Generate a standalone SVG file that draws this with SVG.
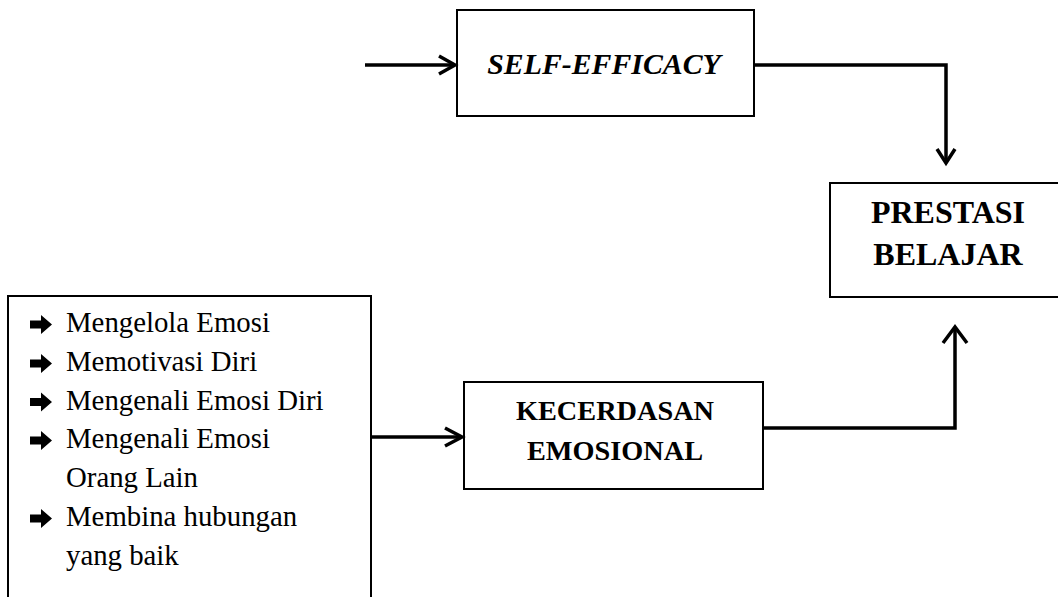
<svg xmlns="http://www.w3.org/2000/svg" xmlns:xlink="http://www.w3.org/1999/xlink" width="1058" height="597" viewBox="0 0 1058 597">
<style>
.box{fill:#fff;stroke:#000;stroke-width:2}
.t{font-family:"Liberation Serif","Times New Roman",serif;fill:#000}
.b{font-weight:bold;font-size:28px;text-anchor:middle}
.li{font-size:28.8px}
.c{fill:none;stroke:#000;stroke-width:3.5}
</style>
<defs>
<path id="bul" d="M0,-4 H11 V-9.5 L22,0 L11,9.5 V4 H0 Z" fill="#000"/>
</defs>
<rect width="1058" height="597" fill="#fff"/>
<g id="self-efficacy">
<rect class="box" x="457" y="10" width="297" height="106"/>
<text class="t b" x="604" y="74" style="font-size:29.8px" font-style="italic">SELF-EFFICACY</text>
</g>
<g id="prestasi">
<rect class="box" x="830" y="183" width="260" height="114"/>
<text class="t b" x="948" y="223" style="font-size:32px">PRESTASI</text>
<text class="t b" x="948" y="265" style="font-size:32px">BELAJAR</text>
</g>
<g id="kecerdasan">
<rect class="box" x="464" y="382" width="299" height="107"/>
<text class="t b" x="615" y="420" style="font-size:28.3px">KECERDASAN</text>
<text class="t b" x="615" y="460" style="font-size:28.3px">EMOSIONAL</text>
</g>
<g id="indikator">
<rect class="box" x="8" y="296" width="363" height="320"/>
<use xlink:href="#bul" x="30" y="324.5"/>
<use xlink:href="#bul" x="30" y="363.5"/>
<use xlink:href="#bul" x="30" y="402"/>
<use xlink:href="#bul" x="30" y="440.5"/>
<use xlink:href="#bul" x="30" y="518.5"/>
<text class="t li" x="66" y="332">Mengelola Emosi</text>
<text class="t li" x="66" y="371">Memotivasi Diri</text>
<text class="t li" x="66" y="410">Mengenali Emosi Diri</text>
<text class="t li" x="66" y="448">Mengenali Emosi</text>
<text class="t li" x="66" y="487">Orang Lain</text>
<text class="t li" x="66" y="526">Membina hubungan</text>
<text class="t li" x="66" y="565">yang baik</text>
</g>
<g id="connectors">
<path class="c" d="M365,65 H455"/>
<path class="c" d="M439,56 L455,65 L439,74"/>
<path class="c" d="M755,65 H946 V163"/>
<path class="c" d="M937,149 L946,163 L955,149"/>
<path class="c" d="M372,437 H462"/>
<path class="c" d="M445,428 L462,437 L445,446"/>
<path class="c" d="M764,428 H955 V327"/>
<path class="c" d="M943,343 L955,327 L967,343"/>
</g>
</svg>
